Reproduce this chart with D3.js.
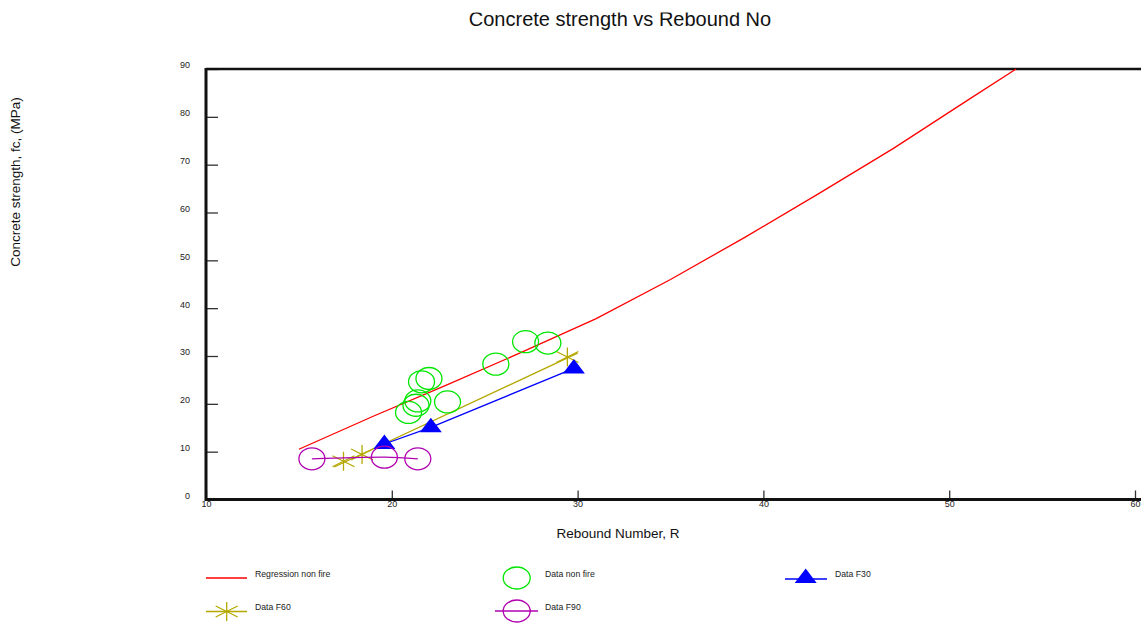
<!DOCTYPE html>
<html>
<head>
<meta charset="utf-8">
<script src="https://cdn.jsdelivr.net/npm/d3@7"></script>
<style>
  body { margin: 0; background: #fff; }
  svg { font-family: "Liberation Sans", Arial, sans-serif; }
</style>
</head>
<body>
<div id="main"></div>
<script>
// chart values
const regR   = [15, 19, 23, 27, 31, 35, 39, 43, 47, 51, 53.6];
const regFc  = [10.5, 17.4, 24.0, 30.8, 37.8, 46.0, 54.8, 64.0, 73.4, 83.5, 90];

const nonFireR  = [21.6, 22.0, 20.9, 21.3, 21.4, 23.0, 25.6, 27.2, 28.4];
const nonFireFc = [24.6, 25.3, 18.2, 19.7, 20.6, 20.4, 28.3, 33.0, 32.7];

const f30R  = [19.6, 22.1, 29.8];
const f30Fc = [11.6, 15.1, 27.4];

const f60R  = [17.4, 18.4, 29.45];
const f60Fc = [8.0, 9.4, 29.8];
const f60LineR  = [16.9, 30.0];
const f60LineFc = [6.8, 30.6];

const f90R  = [15.7, 19.6, 21.4];
const f90Fc = [8.5, 8.85, 8.5];

const xTicks = [10, 20, 30, 40, 50, 60];
const yTicks = [0, 10, 20, 30, 40, 50, 60, 70, 80, 90];

const legendNames = ["Regression non fire", "Data non fire", "Data F30", "Data F60", "Data F90"];

const ctx = { width: 1141, height: 623, left: 206, right: 1135, top: 69, bottom: 499.5 };

const colors = { reg: "#ff0000", nonFire: "#00e600", f30: "#0000ff", f60: "#b4a800", f90: "#b000b0" };

const zip = (a, b) => a.map((v, i) => [v, b[i]]);

let svg = d3.select("#main").append("svg")
  .attr("width", ctx.width)
  .attr("height", ctx.height);

let x = d3.scaleLinear().domain([10, 60]).range([ctx.left, ctx.right]);
let y = d3.scaleLinear().domain([0, 90]).range([ctx.bottom, ctx.top]);

// title (top is clipped in the original)
svg.append("clipPath").attr("id", "titleClip")
  .append("rect").attr("x", 0).attr("y", 12.5).attr("width", ctx.width).attr("height", 40);
svg.append("text")
  .attr("clip-path", "url(#titleClip)")
  .attr("x", 620).attr("y", 25.5)
  .attr("text-anchor", "middle")
  .attr("font-size", 20)
  .attr("fill", "#111")
  .text("Concrete strength vs Rebound No");

// axes
let yAxis = svg.append("g")
  .attr("transform", `translate(${ctx.left},0)`)
  .call(d3.axisLeft(y).tickValues(yTicks).tickSize(-12).tickSizeOuter(0).tickPadding(16));
yAxis.select(".domain").remove();
yAxis.selectAll(".tick line").attr("stroke", "#333").attr("stroke-width", 1.3);
yAxis.selectAll(".tick text").attr("font-size", 9).attr("fill", "#222").attr("y", -4);

let xAxis = svg.append("g")
  .attr("transform", `translate(0,${ctx.bottom})`)
  .call(d3.axisBottom(x).tickValues(xTicks).tickSize(-9).tickSizeOuter(0).tickPadding(1));
xAxis.select(".domain").remove();
xAxis.selectAll(".tick line").attr("stroke", "#333").attr("stroke-width", 1.3);
xAxis.selectAll(".tick text").attr("font-size", 9).attr("fill", "#222");

// frame lines
svg.append("line").attr("x1", ctx.left).attr("x2", ctx.width)
  .attr("y1", ctx.top).attr("y2", ctx.top)
  .attr("stroke", "#111").attr("stroke-width", 2.5);
svg.append("line").attr("x1", ctx.left).attr("x2", ctx.width)
  .attr("y1", ctx.bottom).attr("y2", ctx.bottom)
  .attr("stroke", "#111").attr("stroke-width", 3);
svg.append("line").attr("x1", ctx.left).attr("x2", ctx.left)
  .attr("y1", ctx.top - 1).attr("y2", ctx.bottom + 1.5)
  .attr("stroke", "#111").attr("stroke-width", 3);

// axis titles
svg.append("text")
  .attr("x", 618).attr("y", 538)
  .attr("text-anchor", "middle")
  .attr("font-size", 13.5).attr("fill", "#111")
  .text("Rebound Number, R");
svg.append("text")
  .attr("transform", "translate(20,182) rotate(-90)")
  .attr("text-anchor", "middle")
  .attr("font-size", 13.5).attr("fill", "#111")
  .text("Concrete strength, fc, (MPa)");

// markers
const starPath = "M0,-9.5V9.5M-11,-5.5L11,5.5M-11,5.5L11,-5.5";
const triPath = "M0,-9.5L11,5L-11,5Z";

let line = d3.line().x(d => x(d[0])).y(d => y(d[1]));

let plot = svg.append("g");

// regression curve
plot.append("path").datum(zip(regR, regFc))
  .attr("d", line).attr("fill", "none")
  .attr("stroke", colors.reg).attr("stroke-width", 1.3);

// F60 line + stars
plot.append("path").datum(zip(f60LineR, f60LineFc))
  .attr("d", line).attr("fill", "none")
  .attr("stroke", colors.f60).attr("stroke-width", 1.3);
plot.selectAll(".f60").data(zip(f60R, f60Fc)).enter().append("path")
  .attr("transform", d => `translate(${x(d[0])},${y(d[1])})`)
  .attr("d", starPath).attr("fill", "none")
  .attr("stroke", colors.f60).attr("stroke-width", 1.3);

// F30 line + triangles
plot.append("path").datum(zip(f30R, f30Fc))
  .attr("d", line).attr("fill", "none")
  .attr("stroke", colors.f30).attr("stroke-width", 1.3);
plot.selectAll(".f30").data(zip(f30R, f30Fc)).enter().append("path")
  .attr("transform", d => `translate(${x(d[0])},${y(d[1])})`)
  .attr("d", triPath).attr("fill", colors.f30);

// F90 line + circles
plot.append("path").datum(zip(f90R, f90Fc))
  .attr("d", line.curve(d3.curveMonotoneX)).attr("fill", "none")
  .attr("stroke", colors.f90).attr("stroke-width", 1.3);
line.curve(d3.curveLinear);
plot.selectAll(".f90").data(zip(f90R, f90Fc)).enter().append("ellipse")
  .attr("cx", d => x(d[0])).attr("cy", d => y(d[1]))
  .attr("rx", 13).attr("ry", 11)
  .attr("fill", "none").attr("stroke", colors.f90).attr("stroke-width", 1.3);

// non fire circles
plot.selectAll(".nf").data(zip(nonFireR, nonFireFc)).enter().append("ellipse")
  .attr("cx", d => x(d[0])).attr("cy", d => y(d[1]))
  .attr("rx", 13).attr("ry", 11)
  .attr("fill", "none").attr("stroke", colors.nonFire).attr("stroke-width", 1.3);

// legend
let lg = svg.append("g").attr("font-size", 8.7).attr("fill", "#222");
function legendText(tx, ty, s) {
  lg.append("text").attr("x", tx).attr("y", ty).text(s);
}
// row 1
lg.append("line").attr("x1", 206).attr("x2", 247).attr("y1", 578).attr("y2", 578)
  .attr("stroke", colors.reg).attr("stroke-width", 1.3);
legendText(255, 577, legendNames[0]);
lg.append("ellipse").attr("cx", 516.7).attr("cy", 578).attr("rx", 13.5).attr("ry", 11)
  .attr("fill", "none").attr("stroke", colors.nonFire).attr("stroke-width", 1.3);
legendText(545, 577, legendNames[1]);
lg.append("line").attr("x1", 785).attr("x2", 827).attr("y1", 579).attr("y2", 579)
  .attr("stroke", colors.f30).attr("stroke-width", 1.3);
lg.append("path").attr("transform", "translate(805.7,578)").attr("d", triPath).attr("fill", colors.f30);
legendText(835, 577, legendNames[2]);
// row 2
lg.append("line").attr("x1", 206).attr("x2", 247).attr("y1", 611.5).attr("y2", 611.5)
  .attr("stroke", colors.f60).attr("stroke-width", 1.3);
lg.append("path").attr("transform", "translate(226.7,611.5)").attr("d", starPath)
  .attr("fill", "none").attr("stroke", colors.f60).attr("stroke-width", 1.3);
legendText(255, 610, legendNames[3]);
lg.append("line").attr("x1", 495).attr("x2", 538).attr("y1", 611).attr("y2", 611)
  .attr("stroke", colors.f90).attr("stroke-width", 1.3);
lg.append("ellipse").attr("cx", 516.7).attr("cy", 611).attr("rx", 13.5).attr("ry", 11)
  .attr("fill", "none").attr("stroke", colors.f90).attr("stroke-width", 1.3);
legendText(545, 610, legendNames[4]);
</script>
</body>
</html>
